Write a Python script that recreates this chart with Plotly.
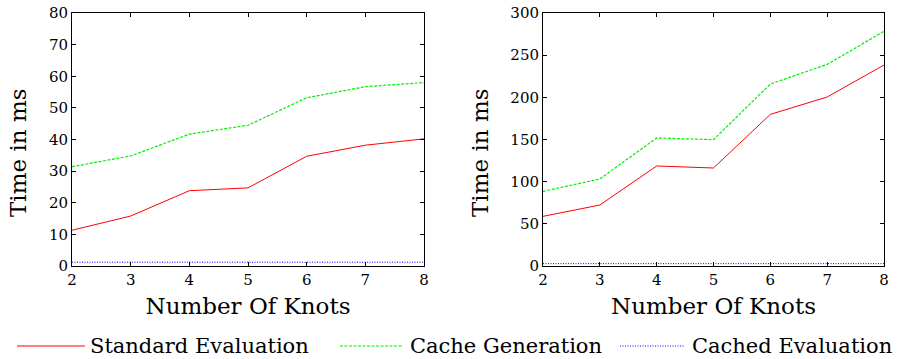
import plotly.graph_objects as go

knots = [2, 3, 4, 5, 6, 7, 8]

# Left panel (ms)
left_standard = [11.3, 15.8, 23.8, 24.7, 34.7, 38.2, 40.2]
left_cache_gen = [31.4, 34.8, 41.7, 44.5, 53.2, 56.7, 58.0]
left_cached = [1.2, 1.2, 1.2, 1.2, 1.2, 1.2, 1.2]

# Right panel (ms)
right_standard = [58.9, 72.3, 118.6, 116.2, 179.8, 200.4, 238.3]
right_cache_gen = [88.5, 103.2, 151.8, 149.8, 215.8, 239.1, 278.3]
right_cached = [2.8, 2.8, 2.8, 2.8, 2.8, 2.8, 2.8]

series_names = ["Standard Evaluation", "Cache Generation", "Cached Evaluation"]
x_title = "Number Of Knots"
y_title = "Time in ms"

FONT = "DejaVu Serif"
styles = [
    dict(color="#ff0000", width=1, dash="solid"),
    dict(color="#00f000", width=1.2, dash="3px,1.5px"),
    dict(color="#0000ff", width=1, dash="1px,1.5px"),
]

fig = go.Figure()
left_sets = [left_standard, left_cache_gen, left_cached]
right_sets = [right_standard, right_cache_gen, right_cached]
for name, vals, st in zip(series_names, left_sets, styles):
    fig.add_trace(go.Scatter(x=knots, y=vals, mode="lines", name=name,
                             line=st, xaxis="x", yaxis="y", showlegend=False))
for name, vals, st in zip(series_names, right_sets, styles):
    fig.add_trace(go.Scatter(x=knots, y=vals, mode="lines", name=name,
                             line=st, xaxis="x2", yaxis="y2", showlegend=False))

W, H = 899, 359
def px(x):
    return x / W
def py(y):
    return 1 - y / H

axis_common = dict(showline=True, linecolor="black", linewidth=1, mirror="ticks",
                   ticks="inside", ticklen=4, tickcolor="black", showgrid=False,
                   zeroline=False, automargin=False,
                   tickfont=dict(family=FONT, size=15, color="black"))

fig.update_layout(
    width=W, height=H,
    margin=dict(l=0, r=0, t=0, b=0),
    paper_bgcolor="white", plot_bgcolor="white",
    font=dict(family=FONT, color="black"),
    xaxis=dict(domain=[px(72), px(424)], range=[2, 8], dtick=1, anchor="y",
               title=dict(text=x_title, font=dict(family=FONT, size=23), standoff=9),
               **axis_common),
    yaxis=dict(domain=[py(266), py(13)], range=[0, 80], dtick=10, anchor="x",
               **axis_common),
    xaxis2=dict(domain=[px(543), px(884)], range=[2, 8], dtick=1, anchor="y2",
                title=dict(text=x_title, font=dict(family=FONT, size=23), standoff=9),
                **axis_common),
    yaxis2=dict(domain=[py(266), py(13)], range=[0, 300], dtick=50, anchor="x2",
                **axis_common),
)

# Y-axis titles (offset like the original)
for xc in (18, 480):
    fig.add_annotation(text=y_title, xref="paper", yref="paper", x=px(xc), y=py(153),
                       xanchor="center", yanchor="middle", textangle=-90,
                       showarrow=False, font=dict(family=FONT, size=23, color="black"))

# Manual legend at bottom
legend_items = [(17, 85, 88), (340, 403, 408), (620, 684, 690)]
ly = 346
for (x0, x1, tx), name, st in zip(legend_items, series_names, styles):
    fig.add_shape(type="line", xref="paper", yref="paper",
                  x0=px(x0), x1=px(x1), y0=py(ly), y1=py(ly),
                  line=dict(color=st["color"], width=st["width"], dash=st["dash"]))
    fig.add_annotation(text=name, xref="paper", yref="paper", x=px(tx), y=py(ly),
                       xanchor="left", yanchor="middle", showarrow=False,
                       font=dict(family=FONT, size=21, color="black"))

fig.write_html("out.html")
